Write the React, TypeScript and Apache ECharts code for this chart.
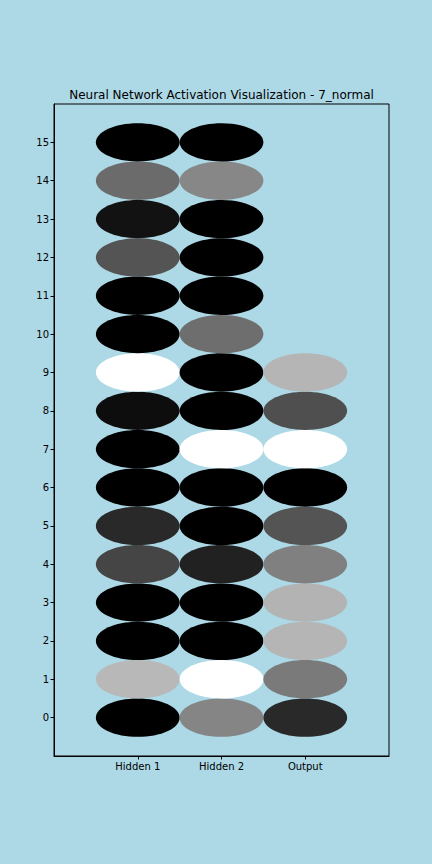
import React, { useEffect, useRef } from "react";
import * as echarts from "echarts";

const layerNames = ["Hidden 1", "Hidden 2", "Output"];
const neuronTicks = [0, 1, 2, 3, 4, 5, 6, 7, 8, 9, 10, 11, 12, 13, 14, 15];
// brightness of each neuron (0 = black, 1 = white), index = neuron number
const hidden1 = [0, 0.72, 0, 0, 0.27, 0.16, 0, 0, 0.05, 1, 0, 0, 0.33, 0.07, 0.42, 0];
const hidden2 = [0.52, 1, 0, 0, 0.13, 0, 0, 1, 0, 0, 0.43, 0, 0, 0, 0.53, 0];
const output = [0.16, 0.48, 0.71, 0.7, 0.5, 0.33, 0, 1, 0.31, 0.71];
const titleText = "Neural Network Activation Visualization - 7_normal";

export default function App() {
  const ref = useRef<HTMLDivElement>(null);
  useEffect(() => {
    if (!ref.current) return;
    const chart = echarts.init(ref.current, null, { renderer: "svg" });
    const layers = [hidden1, hidden2, output];
    const data: number[][] = [];
    layers.forEach((vals, li) => vals.forEach((v, ni) => data.push([li, ni, v])));
    const font = "DejaVu Sans";
    chart.setOption({
      animation: false,
      backgroundColor: "#add8e6",
      textStyle: { fontFamily: font },
      grid: {
        left: 54,
        right: 43,
        top: 104,
        bottom: 108,
        show: true,
        borderColor: "#000",
        borderWidth: 1,
        backgroundColor: "transparent",
      },
      graphic: [
        {
          type: "text",
          x: 221.5,
          y: 101,
          style: {
            text: titleText,
            fontFamily: font,
            fontSize: 12,
            fill: "#000",
            textAlign: "center",
            textVerticalAlign: "bottom",
          },
        },
      ],
      xAxis: {
        type: "value",
        min: -1,
        max: 3,
        splitLine: { show: false },
        axisLine: { show: true, onZero: false, lineStyle: { color: "#000", width: 1 } },
        axisTick: { show: true, length: 3.5, customValues: [0, 1, 2], lineStyle: { color: "#000" } },
        axisLabel: {
          customValues: [0, 1, 2],
          formatter: (v: number) => layerNames[Math.round(v)] ?? "",
          color: "#000",
          fontSize: 10,
          fontFamily: font,
          margin: 5,
        },
      },
      yAxis: {
        type: "value",
        min: -1,
        max: 16,
        splitLine: { show: false },
        axisLine: { show: true, onZero: false, lineStyle: { color: "#000", width: 1 } },
        axisTick: { show: true, length: 3.5, customValues: neuronTicks, lineStyle: { color: "#000" } },
        axisLabel: {
          customValues: neuronTicks,
          formatter: (v: number) => String(Math.round(v)),
          color: "#000",
          fontSize: 10,
          fontFamily: font,
          margin: 5,
        },
      },
      series: [
        {
          type: "custom",
          data,
          renderItem: (params: any, api: any) => {
            const x = api.value(0);
            const y = api.value(1);
            const g = Math.round(api.value(2) * 255);
            const c = api.coord([x, y]);
            const s = api.size([1, 1]);
            return {
              type: "ellipse",
              shape: { cx: c[0], cy: c[1], rx: s[0] / 2, ry: s[1] / 2 },
              style: { fill: `rgb(${g},${g},${g})` },
            };
          },
        },
      ],
    });
    return () => chart.dispose();
  }, []);
  return (
    <div
      ref={ref}
      style={{ position: "absolute", left: 0, top: 0, width: 432, height: 864 }}
    />
  );
}
